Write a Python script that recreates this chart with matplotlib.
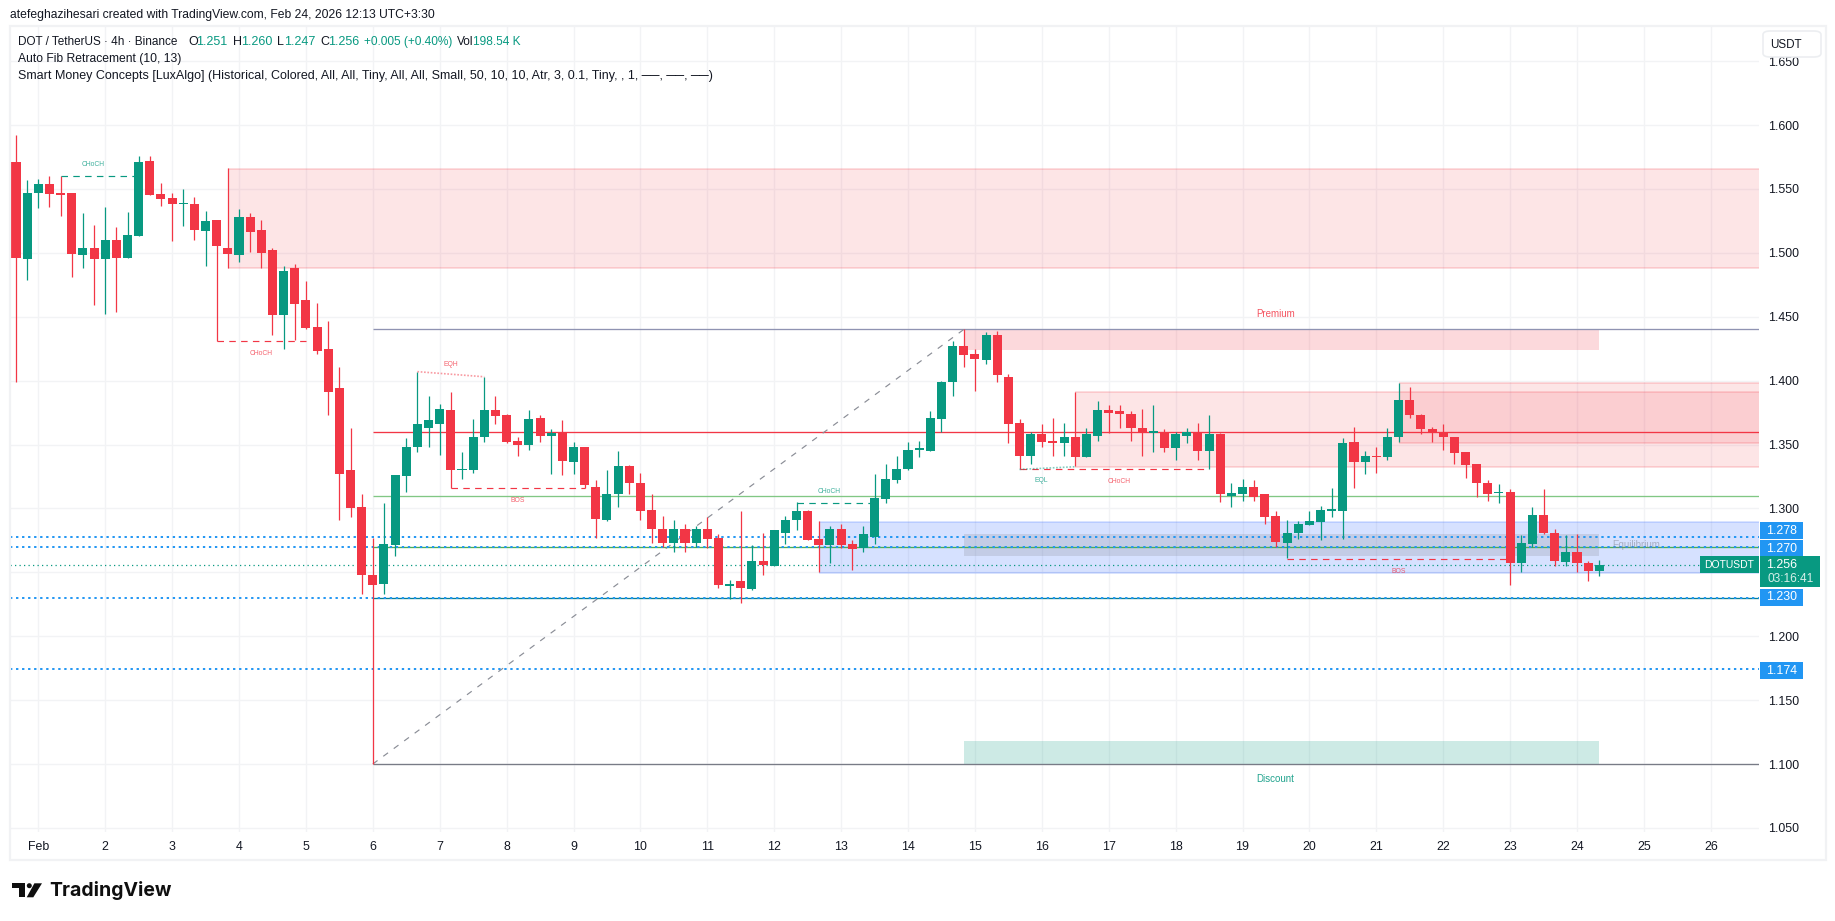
import matplotlib
matplotlib.use("Agg")
import matplotlib.pyplot as plt
from matplotlib.patches import Rectangle, FancyBboxPatch, Polygon, Ellipse

W, H = 1835, 921
GREEN, RED, BLUE = "#089981", "#f23645", "#2196f3"
FONT = "Liberation Sans"
plt.rcParams["font.family"] = [FONT, "DejaVu Sans"]

# ---- OHLC, one row per 4h bar ----
ohlc = [
 (1.571,1.592,1.399,1.496),(1.495,1.557,1.479,1.547),(1.547,1.558,1.535,1.554),(1.554,1.560,1.536,1.546),
 (1.547,1.560,1.529,1.545),(1.547,1.547,1.481,1.499),(1.498,1.531,1.488,1.504),(1.504,1.522,1.459,1.495),
 (1.495,1.536,1.452,1.510),(1.510,1.520,1.454,1.496),(1.496,1.532,1.496,1.514),(1.513,1.576,1.513,1.571),
 (1.572,1.576,1.545,1.545),(1.546,1.555,1.537,1.542),(1.543,1.547,1.509,1.538),(1.538,1.550,1.521,1.539),
 (1.538,1.544,1.510,1.518),(1.517,1.533,1.490,1.525),(1.526,1.526,1.431,1.505),(1.504,1.566,1.488,1.499),
 (1.498,1.534,1.493,1.528),(1.528,1.531,1.501,1.516),(1.518,1.526,1.488,1.500),(1.502,1.504,1.436,1.451),
 (1.451,1.490,1.425,1.486),(1.488,1.491,1.432,1.460),(1.463,1.478,1.440,1.441),(1.442,1.461,1.421,1.423),
 (1.425,1.447,1.373,1.391),(1.394,1.411,1.291,1.327),(1.330,1.363,1.293,1.300),(1.301,1.311,1.233,1.248),
 (1.248,1.277,1.100,1.240),(1.241,1.304,1.233,1.272),(1.271,1.326,1.263,1.326),(1.325,1.355,1.313,1.348),
 (1.348,1.407,1.344,1.366),(1.363,1.388,1.348,1.369),(1.366,1.382,1.342,1.378),(1.377,1.391,1.316,1.330),
 (1.330,1.344,1.323,1.331),(1.330,1.370,1.328,1.356),(1.356,1.403,1.352,1.377),(1.377,1.388,1.366,1.372),
 (1.373,1.374,1.351,1.352),(1.353,1.356,1.341,1.350),(1.350,1.377,1.346,1.370),(1.371,1.373,1.352,1.357),
 (1.357,1.362,1.327,1.359),(1.360,1.369,1.326,1.337),(1.336,1.352,1.327,1.348),(1.348,1.348,1.316,1.318),
 (1.317,1.322,1.277,1.292),(1.291,1.330,1.290,1.311),(1.311,1.345,1.301,1.333),(1.333,1.334,1.311,1.320),
 (1.320,1.328,1.291,1.298),(1.299,1.311,1.273,1.284),(1.284,1.294,1.270,1.273),(1.273,1.291,1.266,1.284),
 (1.284,1.288,1.266,1.273),(1.273,1.286,1.270,1.284),(1.284,1.293,1.269,1.276),(1.277,1.280,1.238,1.240),
 (1.239,1.244,1.229,1.241),(1.243,1.298,1.226,1.238),(1.237,1.271,1.236,1.259),(1.259,1.281,1.248,1.256),
 (1.255,1.283,1.255,1.283),(1.281,1.294,1.272,1.291),(1.291,1.305,1.283,1.298),(1.298,1.299,1.275,1.275),
 (1.276,1.290,1.250,1.271),(1.271,1.286,1.257,1.284),(1.284,1.288,1.269,1.271),(1.272,1.275,1.252,1.268),
 (1.269,1.286,1.266,1.280),(1.278,1.327,1.272,1.308),(1.307,1.335,1.304,1.323),(1.322,1.341,1.320,1.331),
 (1.331,1.352,1.330,1.346),(1.346,1.353,1.340,1.346),(1.345,1.376,1.345,1.371),(1.370,1.400,1.360,1.399),
 (1.399,1.431,1.388,1.427),(1.427,1.440,1.411,1.420),(1.421,1.425,1.392,1.417),(1.416,1.438,1.413,1.436),
 (1.436,1.439,1.399,1.404),(1.403,1.405,1.351,1.366),(1.367,1.370,1.331,1.341),(1.341,1.360,1.335,1.358),
 (1.358,1.366,1.348,1.352),(1.353,1.371,1.341,1.351),(1.351,1.367,1.341,1.356),(1.356,1.391,1.333,1.340),
 (1.340,1.363,1.340,1.358),(1.357,1.384,1.353,1.377),(1.377,1.381,1.359,1.375),(1.376,1.381,1.363,1.374),
 (1.374,1.376,1.353,1.363),(1.363,1.378,1.341,1.359),(1.359,1.381,1.344,1.359),(1.359,1.362,1.344,1.347),
 (1.347,1.360,1.338,1.358),(1.357,1.363,1.351,1.360),(1.360,1.367,1.338,1.345),(1.345,1.373,1.331,1.358),
 (1.358,1.359,1.305,1.311),(1.310,1.320,1.301,1.312),(1.311,1.323,1.306,1.317),(1.317,1.322,1.306,1.309),
 (1.311,1.311,1.288,1.293),(1.294,1.298,1.270,1.274),(1.273,1.291,1.261,1.281),(1.281,1.290,1.276,1.288),
 (1.287,1.298,1.287,1.290),(1.289,1.302,1.275,1.299),(1.298,1.316,1.293,1.298),(1.298,1.355,1.276,1.351),
 (1.352,1.364,1.316,1.336),(1.336,1.345,1.327,1.341),(1.341,1.348,1.328,1.340),(1.340,1.363,1.338,1.356),
 (1.356,1.398,1.352,1.385),(1.385,1.395,1.371,1.373),(1.373,1.374,1.358,1.362),(1.362,1.364,1.352,1.360),
 (1.360,1.366,1.346,1.356),(1.356,1.356,1.335,1.343),(1.344,1.344,1.324,1.334),(1.335,1.335,1.309,1.320),
 (1.320,1.322,1.306,1.311),(1.312,1.319,1.304,1.313),(1.313,1.315,1.240,1.257),(1.257,1.279,1.250,1.273),
 (1.272,1.301,1.270,1.295),(1.295,1.315,1.280,1.281),(1.281,1.284,1.255,1.259),(1.258,1.279,1.255,1.266),
 (1.266,1.280,1.250,1.257),(1.257,1.259,1.243,1.251),(1.251,1.260,1.247,1.256),
]
# Supply / demand zones: first bar, top price, bottom price
supply_zones = [(19, 1.5656, 1.488), (95, 1.3912, 1.3326), (124, 1.3982, 1.3513)]
demand_zone = (72, 1.2896, 1.2497)
premium = (85, 142, 1.44, 1.4237)
equilibrium = (85, 142, 1.2797, 1.2628)
discount = (85, 142, 1.118, 1.10)
# Fibonacci lines (price, colour)
fib_levels = [(1.44, "#8f93b2"), (1.36, RED), (1.31, "#81c784"), (1.27, "#4caf50"), (1.23, "#087f8f"), (1.10, "#787b86")]
fib_start = 32
fib_anchor = (32, 1.10, 85, 1.44)
dotted_levels = [1.278, 1.270, 1.230, 1.174]
last_price = 1.256
# Structure breaks: start bar, end bar, price, label, label bar, colour, side
structures = [
 (4, 11, 1.560, "CHoCH", 6.9, GREEN, 1), (18, 26, 1.431, "CHoCH", 22, RED, -1),
 (39, 51, 1.316, "BOS", 45, RED, -1), (70, 77, 1.3044, "CHoCH", 72.9, GREEN, 1),
 (90, 107, 1.3305, "CHoCH", 98.9, RED, -1), (114, 134, 1.2607, "BOS", 124, RED, -1),
]
eq_lines = [(36, 42, 1.407, 1.403, "EQH", 39, RED, 7.2), (90, 95, 1.3305, 1.3326, "EQL", 92, GREEN, -9)]
price_ticks = [1.05, 1.10, 1.15, 1.20, 1.25, 1.30, 1.35, 1.40, 1.45, 1.50, 1.55, 1.60, 1.65]
hidden_tick = 1.25  # its label sits under the last-price tag
date_labels = ["Feb"] + [str(d) for d in range(2, 27)]
date_ticks = [2 + 6 * k for k in range(len(date_labels))]

fig = plt.figure(figsize=(W / 100, H / 100), dpi=100, facecolor="white")
L, R, T, B = 10, 1759, 26, 832
ax = fig.add_axes([L / W, 1 - B / H, (R - L) / W, (B - T) / H])
PX_BAR = 11.15
ax.set_xlim((L - 16) / PX_BAR, (R - 16) / PX_BAR)
ax.set_ylim(1.6 - (B - 125) / 1278, 1.6 + (125 - T) / 1278)
XEND = ax.get_xlim()[1]
for s in ax.spines.values():
    s.set_visible(False)
ax.set_yticks(price_ticks)
ax.set_yticklabels(["" if p == hidden_tick else f"{p:.3f}" for p in price_ticks], fontsize=8.9, color="#131722")
ax.yaxis.tick_right()
ax.set_xticks(date_ticks)
ax.set_xticklabels(date_labels, fontsize=8.9, color="#131722")
ax.tick_params(axis="y", length=0, pad=6.5)
ax.tick_params(axis="x", length=0, pad=6.8)
ax.grid(True, color="#f2f3f5", lw=1.0)
ax.set_axisbelow(True)


def zone(x0, x1, top, bot, color, alpha, edge=None):
    ax.add_patch(Rectangle((x0, bot), x1 - x0, top - bot, fc=color, alpha=alpha, lw=0, zorder=1))
    if edge:
        ax.hlines([top, bot], x0, x1, color=edge, lw=1.2, alpha=0.2, zorder=1.1)


for i0, top, bot in supply_zones:
    zone(i0, XEND, top, bot, RED, 0.13, RED)
zone(demand_zone[0], XEND, demand_zone[1], demand_zone[2], "#2962ff", 0.19, "#2962ff")
zone(premium[0], premium[1], premium[2], premium[3], RED, 0.19)
zone(equilibrium[0], equilibrium[1], equilibrium[2], equilibrium[3], "#787b86", 0.2)
zone(discount[0], discount[1], discount[2], discount[3], GREEN, 0.2)

for price, col in fib_levels:
    ax.hlines(price, fib_start, XEND, color=col, lw=0.95, zorder=2)
ax.plot([fib_anchor[0], fib_anchor[2]], [fib_anchor[1], fib_anchor[3]], color="#8a8d96",
        lw=0.85, ls=(0, (5, 6)), zorder=2)
for price in dotted_levels:
    ax.plot([ax.get_xlim()[0], XEND], [price, price], color=BLUE, lw=1.4, ls=(0, (1.2, 1.9)), zorder=2.2)
ax.plot([ax.get_xlim()[0], XEND], [last_price, last_price], color=GREEN, lw=0.9, ls=(0, (1, 2.6)), zorder=2.2)

# candles
for i, (o, h, l, c) in enumerate(ohlc):
    col = GREEN if c >= o else RED
    ax.vlines(i, l, h, color=col, lw=0.9, zorder=3)
    ax.bar(i, max(abs(c - o), 0.0012), bottom=min(o, c), width=0.81, color=col, lw=0, zorder=3.1)

# market structure
for x0, x1, p, lab, lx, col, side in structures:
    ax.plot([x0, x1], [p, p], color=col, lw=0.85, ls=(0, (5.5, 4.5)), zorder=3.2)
    ax.annotate(lab, (lx, p), xytext=(0, 8.4 if side > 0 else -9), textcoords="offset points",
                ha="center", va="center", fontsize=4.9, color=col, alpha=0.78, zorder=4)
for x0, x1, p0, p1, lab, lx, col, off in eq_lines:
    ax.plot([x0, x1], [p0, p1], color=col, lw=1.2, ls=(0, (1, 1)), alpha=0.5, zorder=3.2)
    ax.annotate(lab, (lx, (p0 + p1) / 2), xytext=(0, off), textcoords="offset points",
                ha="center", va="center", fontsize=4.9, color=col, alpha=0.78, zorder=4)
ax.annotate("Premium", ((premium[0] + premium[1]) / 2, premium[2]), xytext=(-4.3, 11.5), textcoords="offset points",
            ha="center", va="center", fontsize=7, color=RED, alpha=0.85)
ax.annotate("Discount", ((discount[0] + discount[1]) / 2, discount[3]), xytext=(-4.3, -11), textcoords="offset points",
            ha="center", va="center", fontsize=7, color=GREEN, alpha=0.9)
ax.text(1636 / PX_BAR - 16 / PX_BAR, 1.2712, "Equilibrium", ha="center", va="center", fontsize=7,
        color="#787b86", alpha=0.5, zorder=4)


# ---- chart furniture in pixel coordinates ----
def px(x, y):
    return x / W, 1 - y / H


def ftext(x, y, s, **kw):
    kw.setdefault("va", "center")
    kw.setdefault("fontsize", 9)
    kw.setdefault("color", "#131722")
    return fig.text(*px(x, y), s, **kw)


def fbox(x0, y0, x1, y1, color):
    fig.add_artist(Rectangle(px(x0, y1), (x1 - x0) / W, (y1 - y0) / H, fc=color, lw=0,
                             transform=fig.transFigure, zorder=6))


fig.add_artist(Rectangle(px(10, 860), (1826 - 10) / W, (860 - 26) / H, fc="none", ec="#f1f2f4", lw=1.6,
                         transform=fig.transFigure))
ftext(10, 15, "atefeghazihesari created with TradingView.com, Feb 24, 2026 12:13 UTC+3:30", fontsize=8.7, color="#131722")

legend_bits = [(18, "DOT / TetherUS · 4h · Binance", "#131722", 8.5), (188, "O", "#131722", 9), (196, "1.251", GREEN, 9),
               (233, "H", "#131722", 9), (241, "1.260", GREEN, 9), (277, "L", "#131722", 9), (284, "1.247", GREEN, 9),
               (320, "C", "#131722", 9), (328, "1.256", GREEN, 9), (364, "+0.005 (+0.40%)", GREEN, 8.6),
               (457, "Vol", "#131722", 8.6), (473, "198.54 K", GREEN, 8.6)]
for x, s, c, fs in legend_bits:
    ftext(x, 42, s, color=c, fontsize=fs)
ftext(18, 59, "Auto Fib Retracement (10, 13)", fontsize=8.75)
ftext(18, 76, "Smart Money Concepts [LuxAlgo] (Historical, Colored, All, All, Tiny, All, All, Small, 50, 10, 10, Atr, 3, 0.1, Tiny, , 1, ──, ──, ──)", fontsize=9)

axis_tags = [(522, 539, "1.278"), (540, 557, "1.270"), (589, 606, "1.230"), (662, 679, "1.174")]
for y0, y1, s in axis_tags:
    fbox(1760, y0, 1803, y1, BLUE)
    fig.text(*px(1781.5, (y0 + y1) / 2), s, color="white", ha="center", va="center", fontsize=8.9, zorder=7)
fbox(1760, 556, 1820, 587, GREEN)
fig.text(*px(1782, 564.5), "1.256", color="white", ha="center", va="center", fontsize=8.9, zorder=7)
fig.text(*px(1791, 579), "03:16:41", color="#d7efe9", ha="center", va="center", fontsize=8.6, zorder=7)
fbox(1700, 556, 1759, 573, GREEN)
fig.text(*px(1729.5, 564.5), "DOTUSDT", color="white", ha="center", va="center", fontsize=7.5, zorder=7)

fig.add_artist(FancyBboxPatch(px(1763, 57), 58 / W, 26 / H, boxstyle="round,pad=0,rounding_size=0.004",
                              fc="white", ec="#eceef1", lw=1.2, transform=fig.transFigure, zorder=6))
fig.text(*px(1785.5, 44.5), "USDT", ha="center", va="center", fontsize=8.4, color="#131722", zorder=7)

# TradingView wordmark
logo = "#0f0f0f"
fig.add_artist(Polygon([px(12, 883.3), px(25.3, 883.3), px(25.3, 897.3), px(19.3, 897.3), px(19.3, 888.3), px(12, 888.3)],
                       fc=logo, lw=0, transform=fig.transFigure))
fig.add_artist(Polygon([px(34.4, 883.3), px(42, 883.3), px(33.3, 897.3), px(26.7, 897.3)],
                       fc=logo, lw=0, transform=fig.transFigure))
fig.add_artist(Ellipse(px(29.3, 885.7), 5 / W, 5 / H, fc=logo, lw=0, transform=fig.transFigure))
ftext(49, 890, "TradingView", fontsize=14.0, fontweight="bold", color=logo, family="Inter")

fig.savefig("out.png", dpi=100)
